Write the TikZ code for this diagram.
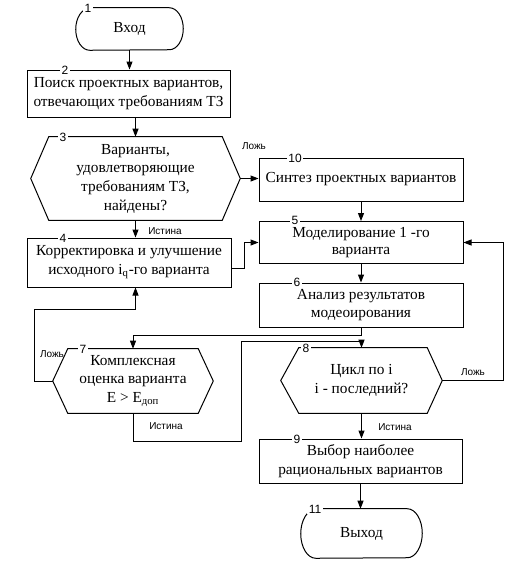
\documentclass[tikz,border=0pt]{standalone}
\usepackage{fontspec}
\setmainfont{Liberation Serif}
\newfontfamily\lblfont{Liberation Sans}
\usetikzlibrary{arrows.meta}
\tikzset{
  x=0.75pt, y=-0.75pt,
  line/.style={draw=black, line width=0.75pt},
  arr/.style={line, -{Triangle[length=6pt,width=4.5pt]}},
  txt/.style={inner sep=0pt, align=center, font=\fontsize{11.5}{14}\selectfont},
  boxnode/.style={txt, draw=black, line width=0.75pt},
  hidden/.style={txt, draw=none},
  num/.style={fill=white, inner xsep=1.2pt, inner ysep=0.3pt, font=\lblfont\fontsize{9}{10}\selectfont},
  lbl/.style={inner sep=0pt, font=\lblfont\fontsize{7.5}{9}\selectfont},
}
\begin{document}
\begin{tikzpicture}
\useasboundingbox (0,0) rectangle (526,561);
% nodes
\node[hidden, minimum width=80.25pt, minimum height=31.5pt] (n1) at (129.5,29) {Вход};
\node[boxnode, minimum width=152.25pt, minimum height=35.25pt] (n2) at (128.5,93.5) {Поиск проектных вариантов,\\отвечающих требованиям ТЗ};
\node[hidden, minimum width=156.75pt, minimum height=62.25pt] (n3) at (135.5,178.5) {Варианты,\\удовлетворяющие\\требованиям ТЗ,\\найдены?};
\node[boxnode, minimum width=153pt, minimum height=36.75pt] (n4) at (129,262.5) {Корректировка и улучшение\\исходного i\textsubscript{q}-го варианта};
\node[boxnode, minimum width=153pt, minimum height=32.25pt] (n10) at (361,179.5) {Синтез проектных вариантов};
\node[boxnode, minimum width=153pt, minimum height=31.5pt, font=\fontsize{11.5}{13}\selectfont] (n5) at (361,242.5) {Моделирование 1 -го\\варианта};
\node[boxnode, minimum width=153pt, minimum height=33pt, font=\fontsize{11.5}{13.5}\selectfont] (n6) at (361,305) {Анализ результатов\\модеоирования};
\node[hidden, minimum width=120pt, minimum height=48pt] (n7) at (133,381) {Комплексная\\оценка варианта\\E > E\textsubscript{доп}};
\node[hidden, minimum width=120.75pt, minimum height=48.75pt] (n8) at (361.5,380.5) {Цикл по i\\i - последний?};
\node[boxnode, minimum width=152.25pt, minimum height=33pt] (n9) at (360.5,461) {Выбор наиболее\\рациональных вариантов};
\node[hidden, minimum width=90.75pt, minimum height=36.75pt] (n11) at (361.5,533.5) {Выход};
% terminators
\draw[line] ([xshift=10.5pt]n1.north west) -- ([xshift=-10.5pt]n1.north east)
  arc[start angle=90, end angle=-90, x radius=10.5pt, y radius=15.75pt]
  -- ([xshift=10.5pt]n1.south west)
  arc[start angle=270, end angle=90, x radius=10.5pt, y radius=15.75pt] -- cycle;
\draw[line] ([xshift=11.25pt]n11.north west) -- ([xshift=-11.25pt]n11.north east)
  arc[start angle=90, end angle=-90, x radius=11.25pt, y radius=18.375pt]
  -- ([xshift=11.25pt]n11.south west)
  arc[start angle=270, end angle=90, x radius=11.25pt, y radius=18.375pt] -- cycle;
% hexagons
\draw[line] (n3.west) -- ([xshift=13.5pt]n3.north west) -- ([xshift=-13.5pt]n3.north east) -- (n3.east)
  -- ([xshift=-13.5pt]n3.south east) -- ([xshift=13.5pt]n3.south west) -- cycle;
\draw[line] (n7.west) -- ([xshift=11.25pt]n7.north west) -- ([xshift=-11.25pt]n7.north east) -- (n7.east)
  -- ([xshift=-11.25pt]n7.south east) -- ([xshift=11.25pt]n7.south west) -- cycle;
\draw[line] (n8.west) -- ([xshift=13.5pt]n8.north west) -- ([xshift=-11.25pt]n8.north east) -- (n8.east)
  -- ([xshift=-11.25pt]n8.south east) -- ([xshift=13.5pt]n8.south west) -- cycle;
% number labels
\node[num] (k1) at (88,8.5) {1};
\node[num] (k2) at (65,70) {2};
\node[num] (k3) at (63,137) {3};
\node[num] (k4) at (63,238) {4};
\node[num] (k10) at (295,158) {10};
\node[num] (k5) at (295,220.5) {5};
\node[num] (k6) at (297,282.5) {6};
\node[num] (k7) at (83,349) {7};
\node[num] (k8) at (306,348) {8};
\node[num] (k9) at (297,439) {9};
\node[num] (k11) at (315,509) {11};
% connectors
\draw[arr] (n1.south) -- (n1.south |- n2.north);
\draw[arr] (n3.north |- n2.south) -- (n3.north);
\draw[arr] (n3.east) -- (n3.east -| n10.west);
\draw[arr] (n3.south) -- (n3.south |- n4.north);
\draw[arr] (n10.south) -- (n5.north);
\draw[arr] ([yshift=-4.5pt]n4.east) -- ++(13,0) |- (n5.west);
\draw[arr] (n5.south) -- (n6.north);
\draw[arr] (n6.south) -- ++(0,8) -| (n7.north);
\coordinate (c7l) at (34,309);
\draw[arr] (n7.west) -| (c7l) -| (n4.south -| n3.south);
\coordinate (c7r) at (241,341);
\draw[arr] (n7.south) -- ++(0,28) -| (c7r) -| (n8.north);
\draw[arr] (n8.east) -- ++(61,0) |- (n5.east);
\draw[arr] (n8.south) -- (n8.south |- n9.north);
\draw[arr] (n9.south) -- (n9.south |- n11.north);
% branch labels
\node[lbl] (f3) at (254,146) {Ложь};
\node[lbl] (t3) at (165,231) {Истина};
\node[lbl] (f7) at (52,354) {Ложь};
\node[lbl] (t7) at (166,426) {Истина};
\node[lbl] (f8) at (473,372) {Ложь};
\node[lbl] (t8) at (395,427) {Истина};
\end{tikzpicture}
\end{document}
